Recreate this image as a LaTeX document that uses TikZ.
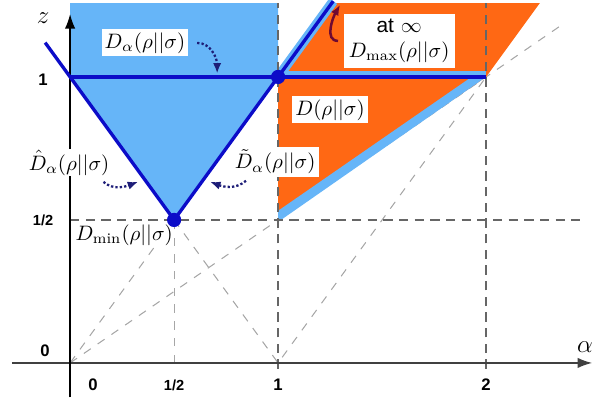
\documentclass[tikz,border=0pt]{standalone}
\usepackage{fontspec}
\setsansfont{Liberation Sans}
\usetikzlibrary{arrows.meta}
\definecolor{regionblue}{RGB}{102,181,248}
\definecolor{regionorange}{RGB}{255,104,20}
\definecolor{lineblue}{RGB}{12,12,200}
\definecolor{pointernavy}{RGB}{30,30,120}
\definecolor{pointermaroon}{RGB}{110,10,50}
\tikzset{
	boxlabel/.style={fill=white, inner sep=1.5pt},
	ticklabel/.style={font=\sffamily\bfseries\footnotesize},
	halflabel/.style={font=\sffamily\bfseries\scriptsize},
	griddash/.style={dash pattern=on 4.5pt off 3pt, line width=0.9pt, black!60},
	helpdash/.style={dash pattern=on 4pt off 4pt, line width=0.5pt, black!35},
	bluelimit/.style={line width=1.6pt, lineblue},
	bluedot/.style={circle, fill=lineblue, inner sep=0pt, minimum size=6.8pt},
	pointer/.style={densely dotted, line width=1.1pt, pointernavy, -{Latex[length=5pt,width=4pt]}},
}
\begin{document}
\begin{tikzpicture}[x=3.5cm,y=4.8125cm]
	\useasboundingbox (-0.337,-0.136) rectangle (2.562,1.269);
	
	\draw[helpdash] (0,0) -- (0.5,0.5); %z = alpha
	\draw[helpdash] (0,0) -- (2.37,1.185); %z = alpha/2
	\draw[helpdash] (0.5,0.5) -- (1,0) -- (2,1); %|1 - alpha|
	\draw[helpdash] (0.5,0) -- (0.5,0.5); %alpha = 1/2
	
	\fill[regionblue] (0,1.258) -- (1,1.258) -- (1,1) -- (0.5,0.5) -- (0,1) -- cycle; %sandwiched
	\fill[regionorange] (1,0.5) -- (1,1) -- (1.258,1.258) -- (2.258,1.258) -- (2,1) -- cycle; %sandwiched
	\fill[regionblue] (1,0.493) -- (2,1) -- (1.93,1) -- (1,0.532) -- cycle; %band alpha/2
	\draw[regionblue, line width=2pt] ([yshift=1.8pt]1,1) -- ([yshift=1.8pt]2,1); %band z = 1
	\draw[regionblue, line width=4.6pt] (1,1) -- (1.265,1.265); %band z = alpha
	
	\draw[griddash] (1,-0.02) -- (1,1.258); %alpha = 1
	\draw[griddash] (2,-0.02) -- (2,1.258); %alpha = 2
	\draw[griddash] (0,0.5) -- (2.45,0.5); %z = 1/2
	
	\draw[line width=0.7pt, black!75, -{Latex[length=7pt,width=5pt]}] (-0.28,0) -- (2.51,0); %alpha axis
	\draw[line width=0.7pt, -{Latex[length=7pt,width=5pt]}] (0,-0.12) -- (0,1.22); %z axis
	
	\draw[bluelimit] (-0.12,1.12) -- (0.5,0.5) -- (1.265,1.265); %V
	\draw[bluelimit] (0,1) -- (2,1); %z = 1
	
	\node at (-0.13,1.206) (zlabel) {\large $z$};
	\node at (2.476,0.056) (alphalabel) {\large $\alpha$};
	\node[ticklabel] at (-0.13,0.99) (zone) {1};
	\node[halflabel] at (-0.13,0.497) (zhalf) {1/2};
	\node[ticklabel] at (-0.12,0.042) (zzero) {0};
	\node[ticklabel] at (0.11,-0.077) (azero) {0};
	\node[halflabel] at (0.5,-0.077) (ahalf) {1/2};
	\node[ticklabel] at (1,-0.077) (aone) {1};
	\node[ticklabel] at (2,-0.077) (atwo) {2};
	
	\node[boxlabel] at (0.36,1.119) (dalpha) {$D_\alpha(\rho||\sigma)$};
	\node[boxlabel, inner sep=0.5pt] at (-0.005,0.70) (dhat) {$\hat D_\alpha(\rho||\sigma)$};
	\node[boxlabel] at (0.986,0.703) (dtilde) {$\tilde D_\alpha(\rho||\sigma)$};
	\node[boxlabel, inner sep=0.5pt] at (0.26,0.446) (dmin) {$D_{\min}(\rho||\sigma)$};
	\node[boxlabel] at (1.25,0.885) (drel) {$D(\rho||\sigma)$};
	\node[boxlabel, align=center, inner sep=2.5pt] at (1.582,1.126) (dmax) {{\sffamily at} $\infty$\\[0pt]$D_{\max}(\rho||\sigma)$};
	
	\node[bluedot] at (0.5,0.5) (pmin) {};
	\node[bluedot] at (1,1) (pone) {};
	
	\coordinate (dalphatip) at (0.707,1.012);
	\coordinate (dhattip) at (0.327,0.633);
	\coordinate (dtildetip) at (0.673,0.633);
	\coordinate (dmaxtip) at (1.298,1.252);
	\draw[pointer] ([xshift=4pt]dalpha.east) to[out=0,in=90] (dalphatip);
	\draw[pointer] ([xshift=-3.5pt,yshift=-2.5pt]dhat.south east) to[out=-40,in=200] (dhattip);
	\draw[pointer] ([xshift=7pt,yshift=-1.5pt]dtilde.south west) to[out=-140,in=-20] (dtildetip);
	\draw[line width=1.2pt, pointermaroon, -{Latex[length=5pt,width=4pt]}] ([xshift=-2.5pt]dmax.west) to[out=180,in=240] (dmaxtip);
\end{tikzpicture}
\end{document}
